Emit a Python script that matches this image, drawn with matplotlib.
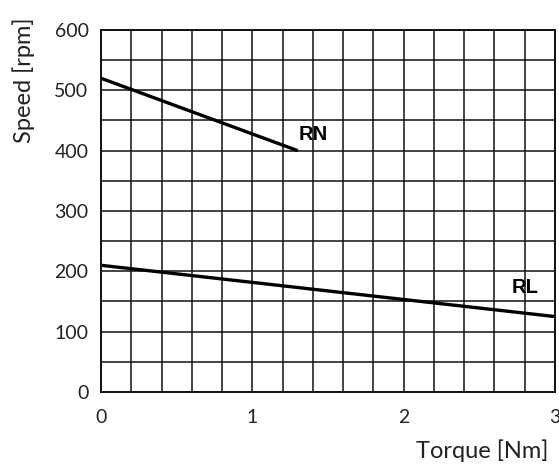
import matplotlib
matplotlib.use("Agg")
import matplotlib.pyplot as plt
import numpy as np

# curve end points
rn_torque = [0.0, 1.3]
rn_speed = [520, 400]
rl_torque = [0.0, 3.0]
rl_speed = [210, 125]

x_ticks = [0, 1, 2, 3]
y_ticks = [0, 100, 200, 300, 400, 500, 600]

plt.rcParams['font.family'] = ['Lato', 'DejaVu Sans']

fig = plt.figure(figsize=(5.59, 4.67), dpi=100)
ax = fig.add_axes([0.1807, 0.1606, 0.9928 - 0.1807, 0.9358 - 0.1606])

ax.set_xlim(0, 3)
ax.set_ylim(0, 600)
ax.set_xticks(np.arange(0, 3.01, 0.2), minor=True)
ax.set_yticks(np.arange(0, 601, 50), minor=True)
ax.set_xticks(x_ticks)
ax.set_yticks(y_ticks)
ax.grid(True, which='both', color='#111111', linewidth=1.1)
ax.set_axisbelow(True)
ax.tick_params(which='both', length=0)
ax.tick_params(axis='x', pad=12, labelsize=14, labelcolor='#222222')
ax.tick_params(axis='y', pad=9, labelsize=14, labelcolor='#222222')
for s in ax.spines.values():
    s.set_linewidth(1.4)
    s.set_color('#111111')

ax.plot(rn_torque, rn_speed, color='black', linewidth=2.4, solid_capstyle='butt')
ax.plot(rl_torque, rl_speed, color='black', linewidth=2.4, solid_capstyle='butt')

ax.text(1.40, 426, 'RN', fontsize=14.5, fontweight='bold',
        family=['Liberation Sans', 'DejaVu Sans'], ha='center', va='center')
ax.text(2.80, 174, 'RL', fontsize=14.5, fontweight='bold',
        family=['Liberation Sans', 'DejaVu Sans'], ha='center', va='center')

ax.set_xlabel('Torque [Nm]', fontsize=17, color='#222222', ha='right')
ax.xaxis.set_label_coords(0.985, -0.132)
ax.set_ylabel('Speed [rpm]', fontsize=17, color='#222222')
ax.yaxis.set_label_coords(-0.145, 0.86)

fig.savefig('out.png', dpi=100)
